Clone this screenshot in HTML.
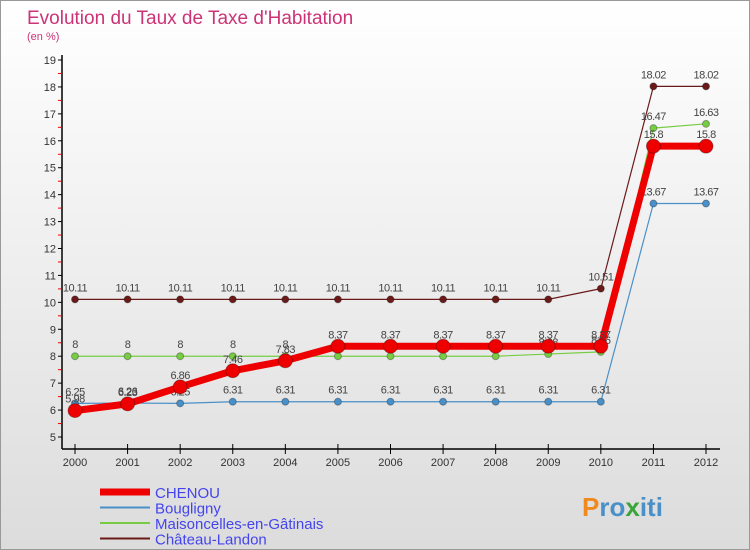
<!DOCTYPE html>
<html><head><meta charset="utf-8"><style>
body{margin:0;width:750px;height:550px;overflow:hidden;font-family:"Liberation Sans","DejaVu Sans",sans-serif}
#wrap{position:absolute;left:0;top:0;width:748px;height:548px;border:1px solid #999;background:linear-gradient(#fff,#dcdcdc)}
</style></head><body>
<div id="wrap">
<svg id="chart" width="750" height="550" style="position:absolute;left:-1px;top:-1px"></svg>
</div>
<script>
const years=["2000","2001","2002","2003","2004","2005","2006","2007","2008","2009","2010","2011","2012"];
const chenou=[5.98,6.23,6.86,7.46,7.83,8.37,8.37,8.37,8.37,8.37,8.37,15.8,15.8];
const bougligny=[6.25,6.26,6.25,6.31,6.31,6.31,6.31,6.31,6.31,6.31,6.31,13.67,13.67];
const maisoncelles=[8,8,8,8,8,8,8,8,8,8.08,8.16,16.47,16.63];
const chateau=[10.11,10.11,10.11,10.11,10.11,10.11,10.11,10.11,10.11,10.11,10.51,18.02,18.02];
const yTicks=[5,6,7,8,9,10,11,12,13,14,15,16,17,18,19];
const seriesNames=["CHENOU","Bougligny","Maisoncelles-en-Gâtinais","Château-Landon"];
const NS="http://www.w3.org/2000/svg",svg=document.getElementById('chart');
function el(t,a,p){const e=document.createElementNS(NS,t);for(const k in a)e.setAttribute(k,a[k]);(p||svg).appendChild(e);return e;}
const x=i=>75+i*(706-75)/(years.length-1);
const y=v=>437-(v-5)*(437-60)/14;
let t=el('text',{x:27,y:24,'font-size':19,fill:'#cc3377'});t.textContent="Evolution du Taux de Taxe d'Habitation";

t=el('text',{x:27,y:40,'font-size':11,fill:'#cc3377'});t.textContent="(en %)";

// axes
let a=el('line',{x1:62,y1:55,x2:62,y2:449,stroke:'#000','stroke-width':1.5});

a=el('line',{x1:62,y1:449,x2:720,y2:449,stroke:'#000','stroke-width':1.5});

yTicks.forEach(v=>{
 el('line',{x1:58,y1:y(v),x2:62,y2:y(v),stroke:'#000'});
 if(v<19) el('line',{x1:58,y1:y(v+0.5),x2:61,y2:y(v+0.5),stroke:'#e00'});
 const l=el('text',{x:56,y:y(v)+4,'font-size':11,fill:'#333','text-anchor':'end'});l.textContent=v;
 
});
years.forEach((yr,i)=>{
 el('line',{x1:x(i),y1:444,x2:x(i),y2:454,stroke:'#000'});
 const l=el('text',{x:x(i),y:466,'font-size':11,fill:'#333','text-anchor':'middle'});l.textContent=yr;
 
});
function series(data,color,w,r,name,dy){
 const g=el('g',{});
 el('polyline',{points:data.map((v,i)=>x(i)+','+y(v)).join(' '),fill:'none',stroke:color,'stroke-width':w,'stroke-linejoin':'round'},g);
 data.forEach((v,i)=>{
  const c=el('circle',{cx:x(i),cy:y(v),r:r,fill:color,stroke:'rgba(0,0,0,0.3)'},g);
  
  const l=el('text',{x:x(i),y:y(v)-8-dy,'font-size':11,fill:'#444','text-anchor':'middle','letter-spacing':'-0.5'},g);l.textContent=v;
 });
}
series(chateau,'#6b1a1a',1.2,3.5,'chateau-landon-series',0);
series(maisoncelles,'#77cc44',1.2,3.5,'maisoncelles-series',0);
series(bougligny,'#4a90c8',1.2,3.5,'bougligny-series',0);
series(chenou,'#ee0000',7,7,'chenou-series',0);
// legend
const cols=['#ee0000','#4a90c8','#77cc44','#6b1a1a'],ws=[7,2,2,2];
seriesNames.forEach((n,i)=>{
 const yy=492+i*15.5;
 const g=el('g',{});
 el('line',{x1:100,y1:yy,x2:150,y2:yy,stroke:cols[i],'stroke-width':ws[i]},g);
 const l=el('text',{x:155,y:yy+6,'font-size':15,fill:'#4444ee'},g);l.textContent=n;
});
t=el('text',{x:582,y:516,'font-size':26,'font-weight':'bold',fill:'#4a90c8'});t.innerHTML='<tspan fill="#f08a1e">P</tspan>ro<tspan fill="#3aa63a">x</tspan>iti';

</script>
</body></html>
